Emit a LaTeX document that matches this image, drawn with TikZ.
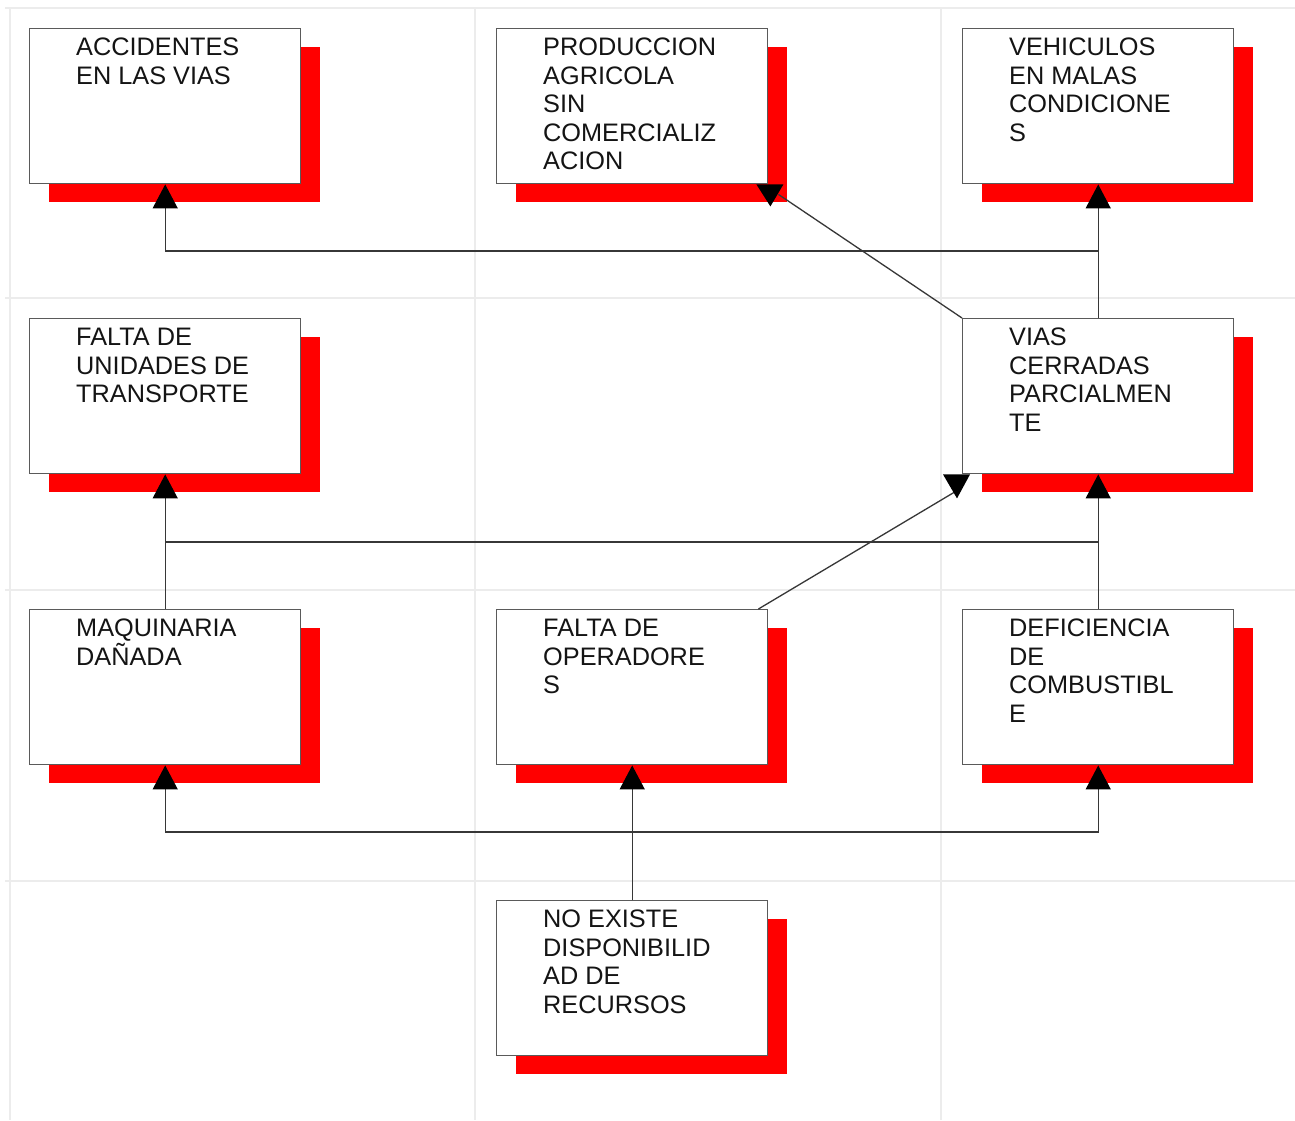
\documentclass[tikz,border=0pt]{standalone}
\usepackage{fontspec}
\setmainfont{Liberation Sans}
\usetikzlibrary{arrows.meta,calc}
\definecolor{shadowred}{RGB}{255,0,0}
\definecolor{boxgray}{RGB}{90,90,90}
\definecolor{linegray}{RGB}{55,55,55}
\definecolor{gridgray}{RGB}{236,236,236}
\tikzset{
  stepbox/.style={draw=boxgray, line width=1.4pt, fill=white, minimum width=271pt, minimum height=155pt, inner sep=0pt, anchor=north west},
  boxtext/.style={anchor=north west, inner sep=0pt, align=left, text=black!92, font=\fontsize{25.3}{28.5}\selectfont},
  conn/.style={draw=linegray, line width=1.3pt},
  arr/.style={conn, -{Triangle[width=25pt,length=24pt,color=black]}},
  gridline/.style={draw=gridgray, line width=1.2pt}
}
\newcommand{\mybox}[4]{% name, x, y, text
  \fill[shadowred] (#2+20,#3+19) rectangle (#2+291,#3+174);
  \node[stepbox] (#1) at (#2,#3) {};
  \node[boxtext] (#1t) at (#2+47,#3+10) {#4};
}
\begin{document}
\begin{tikzpicture}[x=1pt,y=-1pt]
\useasboundingbox[fill=white] (0,0) rectangle (1295,1120);
% faint grid
\foreach \gx in {10,475,941} \draw[gridline] (\gx,8) -- (\gx,1120);
\foreach \gy in {8,298,590,881} \draw[gridline] (5,\gy) -- (1295,\gy);
% boxes
\mybox{acc}{29}{28}{ACCIDENTES\\EN LAS VIAS}
\mybox{prod}{496}{28}{PRODUCCION\\AGRICOLA\\SIN\\COMERCIALIZ\\ACION}
\mybox{veh}{962}{28}{VEHICULOS\\EN MALAS\\CONDICIONE\\S}
\mybox{unid}{29}{318}{FALTA DE\\UNIDADES DE\\TRANSPORTE}
\mybox{vias}{962}{318}{VIAS\\CERRADAS\\PARCIALMEN\\TE}
\mybox{maq}{29}{609}{MAQUINARIA\\DAÑADA}
\mybox{oper}{496}{609}{FALTA DE\\OPERADORE\\S}
\mybox{def}{962}{609}{DEFICIENCIA\\DE\\COMBUSTIBL\\E}
\mybox{noex}{496}{900}{NO EXISTE\\DISPONIBILID\\AD DE\\RECURSOS}
% connectors
\coordinate (ya) at (0,251);
\coordinate (yb) at (0,542);
\coordinate (yc) at (0,832);
\draw[arr] (vias.north) -- (veh.south);
\draw[arr] (vias.north) -- (vias.north |- ya) -- (acc.south |- ya) -- (acc.south);
\draw[conn] (vias.north west) -- ($(prod.south east)+(10,10)$);
\fill[black] ($(prod.south east)+(-12,0)$) -- ($(prod.south east)+(15,0)$) -- ($(prod.south east)+(2,22)$) -- cycle;
\draw[arr] (maq.north) -- (unid.south);
\draw[arr] (def.north) -- (vias.south);
\draw[conn] (maq.north |- yb) -- (def.north |- yb);
\draw[conn] ($(oper.north east)+(-10,0)$) -- ($(vias.south west)+(-8,18)$);
\fill[black] ($(vias.south west)+(-19,0)$) -- ($(vias.south west)+(8,0)$) -- ($(vias.south west)+(-5,24)$) -- cycle;
\draw[arr] (noex.north) -- (oper.south);
\draw[arr] (noex.north) -- (noex.north |- yc) -- (maq.south |- yc) -- (maq.south);
\draw[arr] (noex.north |- yc) -- (def.south |- yc) -- (def.south);
\end{tikzpicture}
\end{document}
